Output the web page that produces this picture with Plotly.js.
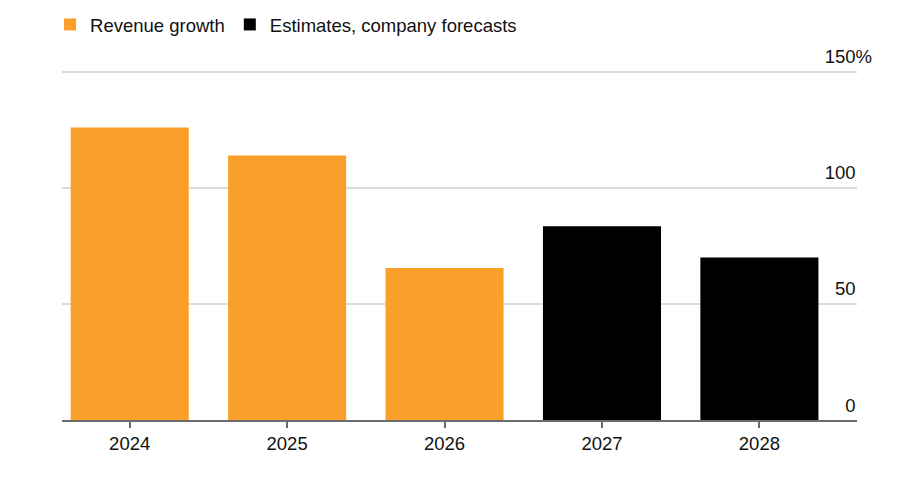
<!DOCTYPE html>
<html>
<head>
<meta charset="utf-8">
<script src="https://cdn.plot.ly/plotly-3.0.1.min.js"></script>
<style>
  html, body { margin: 0; padding: 0; background: #fff; }
  #chart { width: 900px; height: 477px; }
</style>
</head>
<body>
<div id="chart"></div>
<script>
// Data
const years = ["2024", "2025", "2026", "2027", "2028"];
const actualYears = ["2024", "2025", "2026"];
const actualValues = [126, 114, 65.5];
const estimateYears = ["2027", "2028"];
const estimateValues = [83.5, 70];
const seriesNames = ["Revenue growth", "Estimates, company forecasts"];
const yTickVals = [0, 50, 100, 150];
const yTickLabels = ["0", "50", "100", "150"];
const yTickSuffix = ["", "", "", "%"];

const FONT = "Liberation Sans, Arial, Helvetica, sans-serif";
const HIDDEN_PCT = "<span style='color:rgba(0,0,0,0)'>%</span>";
const yTickText = yTickLabels.map((t, i) => t + (yTickSuffix[i] ? yTickSuffix[i] : HIDDEN_PCT));

const traces = [
  {
    type: "bar",
    name: seriesNames[0],
    x: actualYears,
    y: actualValues,
    width: 0.75,
    marker: { color: "#FAA02A", line: { width: 0 } },
    hoverinfo: "x+y"
  },
  {
    type: "bar",
    name: seriesNames[1],
    x: estimateYears,
    y: estimateValues,
    width: 0.75,
    marker: { color: "#000000", line: { width: 0 } },
    hoverinfo: "x+y"
  }
];

const layout = {
  width: 900,
  height: 477,
  margin: { l: 62, r: 43, t: 37, b: 57, autoexpand: false },
  paper_bgcolor: "#ffffff",
  plot_bgcolor: "#ffffff",
  font: { family: FONT, size: 18.5, color: "#111111" },
  barmode: "overlay",
  showlegend: true,
  legend: {
    orientation: "h",
    x: -0.015,
    xanchor: "left",
    y: 1.0316,
    yanchor: "middle",
    font: { family: FONT, size: 18.5, color: "#111111" },
    bgcolor: "rgba(0,0,0,0)",
    traceorder: "normal"
  },
  xaxis: {
    type: "category",
    categoryorder: "array",
    categoryarray: years,
    range: [-0.43, 4.62],
    showline: true,
    linecolor: "#6b6b6b",
    linewidth: 2,
    ticks: "outside",
    ticklen: 6,
    tickwidth: 2,
    tickcolor: "#6b6b6b",
    showgrid: false,
    zeroline: false,
    tickfont: { family: FONT, size: 18.5, color: "#111111" },
    fixedrange: true
  },
  yaxis: {
    side: "right",
    range: [0, 165],
    tickvals: yTickVals,
    ticktext: yTickText,
    ticks: "",
    ticklabelposition: "inside top",
    ticklabelstandoff: -18,
    ticklabelshift: -2,
    showgrid: true,
    gridcolor: "#dcdcdc",
    gridwidth: 1.5,
    zeroline: false,
    showline: false,
    tickfont: { family: FONT, size: 18.5, color: "#111111" },
    fixedrange: true
  }
};

Plotly.newPlot("chart", traces, layout, { displayModeBar: false, staticPlot: true });
</script>
</body>
</html>
